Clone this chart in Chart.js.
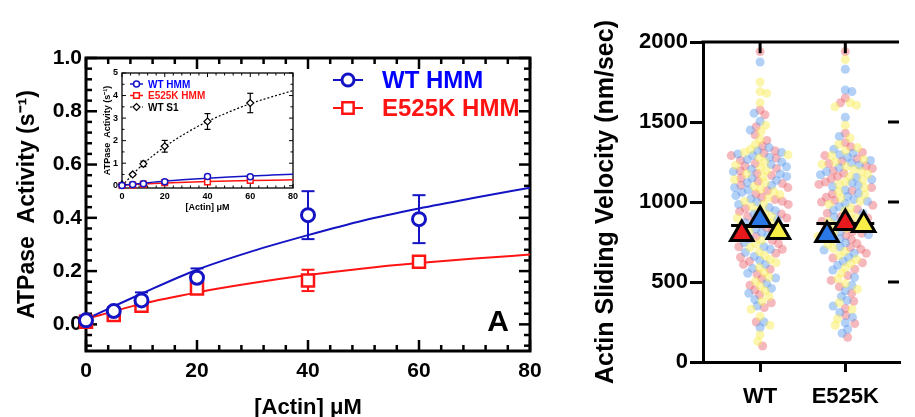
<!DOCTYPE html>
<html>
<head>
<meta charset="utf-8">
<script src="https://cdn.jsdelivr.net/npm/chart.js@4.4.1/dist/chart.umd.min.js"></script>
<style>
  html, body { margin: 0; padding: 0; background: #fff; overflow: hidden; }
  #wrap { position: relative; width: 915px; height: 417px; overflow: hidden; }
  #mainBox { position: absolute; left: 0; top: 0; }
  #insetBox { position: absolute; left: 85px; top: 60px; }
  #rightBox { position: absolute; left: 560px; top: 0; }
</style>
</head>
<body>
<div id="wrap">
  <div id="mainBox"><canvas id="mainChart" width="560" height="440"></canvas></div>
  <div id="insetBox"><canvas id="insetChart" width="220" height="160"></canvas></div>
  <div id="rightBox"><canvas id="rightChart" width="355" height="417"></canvas></div>
</div>
<script>
// Données ATPase
const actinConc = [0, 5, 10, 20, 40, 60];
const wtActivity = [0.015, 0.05, 0.09, 0.175, 0.41, 0.395];
const wtError = [0.01, 0.015, 0.03, 0.035, 0.09, 0.09];
const e525kActivity = [0.01, 0.035, 0.07, 0.135, 0.165, 0.235];
const e525kError = [0.005, 0.01, 0.015, 0.015, 0.04, 0.01];
const s1Activity = [0.05, 0.5, 0.97, 1.75, 2.85, 3.67];
const s1Error = [0.02, 0.05, 0.12, 0.26, 0.35, 0.43];

// Courbes d'ajustement
const fitConc = [0, 10, 20, 30, 40, 50, 60, 70, 80];
const wtFit = [0.02, 0.115, 0.205, 0.275, 0.335, 0.39, 0.435, 0.475, 0.513];
const e525kFit = [0.02, 0.077, 0.12, 0.155, 0.185, 0.21, 0.23, 0.247, 0.262];
const s1Fit = [0, 0.97, 1.73, 2.34, 2.85, 3.27, 3.64, 3.94, 4.22];

const xTickVals = [0, 20, 40, 60, 80];
const yTickVals = [0, 0.2, 0.4, 0.6, 0.8, 1.0];
const insetYTicks = [0, 1, 2, 3, 4, 5];
const mainLegend = ["WT HMM", "E525K HMM"];
const insetLegend = ["WT HMM", "E525K HMM", "WT S1"];

// Données de glissement (nm/sec)
const groups = ["WT", "E525K"];
const velTicks = [0, 500, 1000, 1500, 2000];
const wtRed = [1940, 1575, 1545, 1470, 1420, 1385, 1350, 1320, 1305, 1290, 1275, 1260, 1240, 1225, 1210, 1195, 1180, 1165, 1150, 1130, 1115, 1105, 1090, 1070, 1050, 1030, 1015, 1005, 985, 960, 940, 925, 910, 900, 880, 860, 840, 820, 805, 785, 760, 740, 720, 705, 680, 655, 630, 610, 580, 550, 520, 480, 450, 420, 370, 340, 250, 100];
const wtBlue = [1875, 1555, 1505, 1450, 1340, 1320, 1310, 1300, 1290, 1280, 1265, 1250, 1235, 1220, 1205, 1190, 1175, 1160, 1150, 1135, 1120, 1105, 1090, 1075, 1060, 1040, 1020, 1000, 985, 965, 945, 925, 905, 890, 870, 850, 830, 810, 790, 770, 745, 720, 705, 685, 660, 635, 610, 585, 555, 525, 490, 460, 430, 390, 350, 250, 215];
const wtYellow = [1750, 1690, 1680, 1620, 1480, 1440, 1390, 1360, 1330, 1310, 1295, 1275, 1250, 1230, 1215, 1195, 1175, 1160, 1140, 1120, 1095, 1080, 1065, 1045, 1025, 1005, 985, 970, 950, 930, 910, 900, 885, 865, 845, 820, 800, 780, 760, 740, 715, 690, 665, 640, 620, 590, 560, 530, 505, 475, 445, 410, 380, 330, 285, 230, 170, 130];
const e525kRed = [1940, 1650, 1620, 1430, 1370, 1345, 1310, 1290, 1270, 1255, 1240, 1225, 1210, 1195, 1180, 1160, 1145, 1125, 1110, 1090, 1070, 1050, 1030, 1010, 1000, 980, 955, 930, 910, 900, 880, 860, 835, 815, 805, 790, 765, 740, 715, 705, 680, 650, 620, 580, 540, 510, 470, 430, 380, 335, 290, 240, 155];
const e525kBlue = [1830, 1700, 1690, 1530, 1410, 1330, 1305, 1295, 1280, 1260, 1245, 1230, 1215, 1190, 1170, 1155, 1140, 1120, 1105, 1095, 1075, 1055, 1035, 1015, 1005, 990, 970, 950, 930, 905, 885, 860, 840, 815, 795, 770, 745, 720, 700, 680, 655, 630, 605, 575, 530, 480, 445, 410, 385, 350, 310, 280, 245, 205, 180];
const e525kYellow = [1890, 1620, 1605, 1595, 1480, 1400, 1360, 1340, 1320, 1290, 1265, 1250, 1235, 1220, 1205, 1190, 1175, 1160, 1140, 1125, 1110, 1090, 1065, 1045, 1025, 1005, 985, 965, 945, 920, 900, 880, 855, 835, 810, 800, 785, 760, 735, 710, 690, 665, 640, 615, 590, 555, 520, 490, 455, 370, 330, 270, 230];
// moyennes par réplicat (triangles) et moyenne globale
const redMeans = [800, 869];
const blueMeans = [887, 794];
const yellowMeans = [812, 856];
const groupMeans = [853, 866];
const barTop = [1930, 1930];
// place des triangles : -1 gauche, 0 centre, 1 droite
const redSlot = [-1, 0];
const blueSlot = [0, -1];
const yellowSlot = [1, 1];

const BLUE = "#1414c4";
const RED = "#ff1414";
const TRI_STEP = 0.215;
const SWARM_GAP = 6.8;

Chart.defaults.font.family = "'Liberation Sans', Arial, sans-serif";
Chart.defaults.font.weight = "bold";
Chart.defaults.color = "#000";
Chart.defaults.animation = false;

function seg(ctx, x1, y1, x2, y2) {
  ctx.beginPath();
  ctx.moveTo(x1, y1);
  ctx.lineTo(x2, y2);
  ctx.stroke();
}

// Cadre avec graduations intérieures
const framePlugin = {
  id: "frame",
  beforeDatasetsDraw(chart, args, o) {
    if (!o.enabled) return;
    const { ctx, chartArea: a } = chart;
    const x = chart.scales.x, y = chart.scales.y;
    ctx.save();
    ctx.strokeStyle = "#000";
    ctx.lineCap = "butt";
    ctx.lineWidth = o.tickWidth;
    const isMajor = (v, step) => Math.abs(v / step - Math.round(v / step)) < 1e-6;
    for (let i = Math.ceil(x.min / o.xMinor - 1e-9); i * o.xMinor <= x.max + 1e-9; i++) {
      const v = i * o.xMinor;
      const len = isMajor(v, o.xMajor) ? o.major : o.minor;
      const px = x.getPixelForValue(v);
      seg(ctx, px, a.bottom, px, a.bottom - len);
      seg(ctx, px, a.top, px, a.top + len);
    }
    for (let i = Math.ceil(y.min / o.yMinor - 1e-9); i * o.yMinor <= y.max + 1e-9; i++) {
      const v = i * o.yMinor;
      const len = isMajor(v, o.yMajor) ? o.major : o.minor;
      const py = y.getPixelForValue(v);
      seg(ctx, a.left, py, a.left + len, py);
      seg(ctx, a.right, py, a.right - len, py);
    }
    ctx.lineWidth = o.lineWidth;
    ctx.strokeRect(a.left, a.top, a.right - a.left, a.bottom - a.top);
    ctx.restore();
  }
};

// Barres d'erreur
const errorBarPlugin = {
  id: "errorBars",
  beforeDatasetsDraw(chart, args, o) {
    const { ctx } = chart;
    chart.data.datasets.forEach((ds, i) => {
      if (!ds.errors) return;
      const meta = chart.getDatasetMeta(i);
      const ys = chart.scales[meta.yAxisID];
      ctx.save();
      ctx.strokeStyle = ds.borderColor;
      ctx.lineWidth = o.lineWidth;
      meta.data.forEach((pt, j) => {
        const v = ds.data[j].y, e = ds.errors[j];
        const top = ys.getPixelForValue(v + e);
        const bot = ys.getPixelForValue(v - e);
        seg(ctx, pt.x, top, pt.x, bot);
        seg(ctx, pt.x - o.cap, top, pt.x + o.cap, top);
        seg(ctx, pt.x - o.cap, bot, pt.x + o.cap, bot);
      });
      ctx.restore();
    });
  }
};

// Légende avec trait + symbole, texte coloré
const legendPlugin = {
  id: "lineLegend",
  afterDraw(chart, args, o) {
    if (!o.items) return;
    const { ctx, chartArea: a } = chart;
    ctx.save();
    o.items.forEach((it, k) => {
      const y = a.top + o.top + k * o.gap;
      const x0 = a.left + o.left;
      ctx.strokeStyle = it.color;
      ctx.lineWidth = it.lineWidth;
      ctx.setLineDash(it.dash || []);
      seg(ctx, x0, y, x0 + o.lineLen, y);
      ctx.setLineDash([]);
      ctx.fillStyle = "#fff";
      ctx.lineWidth = it.markerWidth;
      Chart.helpers.drawPoint(ctx, { pointStyle: it.style, radius: it.radius, borderWidth: it.markerWidth, rotation: 0 }, x0 + o.lineLen / 2, y);
      ctx.fillStyle = it.textColor;
      ctx.font = "bold " + o.fontSize + "px 'Liberation Sans', Arial, sans-serif";
      ctx.textBaseline = "middle";
      ctx.textAlign = "left";
      ctx.fillText(it.label, x0 + o.textOffset, y + 1);
    });
    if (o.panelLabel) {
      ctx.fillStyle = "#000";
      ctx.font = "bold 30px 'Liberation Sans', Arial, sans-serif";
      ctx.textAlign = "center";
      ctx.textBaseline = "middle";
      ctx.fillText(o.panelLabel, a.right - 32, a.bottom - 28);
    }
    ctx.restore();
  }
};

function points(xs, ys) {
  return xs.map((c, i) => ({ x: c, y: ys[i] }));
}

// Graphique principal
new Chart(document.getElementById("mainChart"), {
  type: "scatter",
  data: {
    datasets: [
      { label: "WT HMM", data: points(actinConc, wtActivity), errors: wtError, borderColor: BLUE, backgroundColor: "#fff",
        pointStyle: "circle", pointRadius: 6.5, borderWidth: 3, order: 0, clip: false },
      { label: "E525K HMM", data: points(actinConc, e525kActivity), errors: e525kError, borderColor: RED, backgroundColor: "#fff",
        pointStyle: "rect", pointRadius: 8.5, borderWidth: 2.5, order: 1, clip: false },
      { label: "WT fit", data: points(fitConc, wtFit), showLine: true, borderColor: BLUE, borderWidth: 2,
        pointRadius: 0, cubicInterpolationMode: "monotone", order: 2 },
      { label: "E525K fit", data: points(fitConc, e525kFit), showLine: true, borderColor: RED, borderWidth: 2,
        pointRadius: 0, cubicInterpolationMode: "monotone", order: 3 }
    ]
  },
  options: {
    responsive: false,
    layout: { padding: { left: 0, right: 30, top: 58, bottom: 0 } },
    plugins: {
      legend: { display: false },
      tooltip: { enabled: false },
      frame: { enabled: true, lineWidth: 3, tickWidth: 2.5, xMinor: 4, xMajor: 20, yMinor: 0.04, yMajor: 0.2, minor: 6, major: 11 },
      errorBars: { lineWidth: 2, cap: 6.5 },
      lineLegend: {
        left: 247, top: 22, gap: 28, lineLen: 30, textOffset: 49, fontSize: 24, panelLabel: "A",
        items: [
          { label: mainLegend[0], color: BLUE, textColor: "#0000ff", lineWidth: 2, style: "circle", radius: 6, markerWidth: 3 },
          { label: mainLegend[1], color: RED, textColor: RED, lineWidth: 2, style: "rect", radius: 8, markerWidth: 2.5 }
        ]
      }
    },
    scales: {
      x: {
        type: "linear", min: 0, max: 80,
        grid: { display: false, drawTicks: false }, border: { display: false },
        afterBuildTicks: (s) => { s.ticks = xTickVals.map((v) => ({ value: v })); },
        afterFit: (s) => { s.height = 89; },
        ticks: { font: { size: 21, weight: "bold" }, padding: 8, maxRotation: 0 },
        title: { display: true, text: "[Actin] μM", font: { size: 22, weight: "bold" }, padding: { top: 0, bottom: 19 } }
      },
      y: {
        type: "linear", min: -0.1, max: 1.0,
        grid: { display: false, drawTicks: false }, border: { display: false },
        afterBuildTicks: (s) => { s.ticks = yTickVals.map((v) => ({ value: v })); },
        afterFit: (s) => { s.width = 86; },
        ticks: { font: { size: 21, weight: "bold" }, padding: 4, callback: (v) => v.toFixed(1) },
        title: { display: true, text: "ATPase  Activity (s⁻¹)", font: { size: 23, weight: "bold" }, padding: { top: 14, bottom: 0 } }
      }
    }
  },
  plugins: [framePlugin, errorBarPlugin, legendPlugin]
});

// Encart avec S1
new Chart(document.getElementById("insetChart"), {
  type: "scatter",
  data: {
    datasets: [
      { label: "WT HMM", data: points(actinConc, wtActivity), borderColor: BLUE, backgroundColor: "#fff",
        pointStyle: "circle", pointRadius: 3, borderWidth: 1.5, order: 0, clip: false },
      { label: "E525K HMM", data: points(actinConc, e525kActivity), borderColor: RED, backgroundColor: "#fff",
        pointStyle: "rect", pointRadius: 4, borderWidth: 1.5, order: 1, clip: false },
      { label: "WT S1", data: points(actinConc, s1Activity), errors: s1Error, borderColor: "#000", backgroundColor: "#fff",
        pointStyle: "rectRot", pointRadius: 3.5, borderWidth: 1.2, order: 0, clip: false },
      { label: "WT fit", data: points(fitConc, wtFit), showLine: true, borderColor: BLUE, borderWidth: 1.5,
        pointRadius: 0, cubicInterpolationMode: "monotone", order: 3 },
      { label: "E525K fit", data: points(fitConc, e525kFit), showLine: true, borderColor: RED, borderWidth: 1.5,
        pointRadius: 0, cubicInterpolationMode: "monotone", order: 4 },
      { label: "S1 fit", data: points(fitConc, s1Fit), showLine: true, borderColor: "#000", borderWidth: 1.2,
        borderDash: [2, 2], pointRadius: 0, cubicInterpolationMode: "monotone", order: 5 }
    ]
  },
  options: {
    responsive: false,
    layout: { padding: { left: 0, right: 12, top: 13, bottom: 0 } },
    plugins: {
      legend: { display: false },
      tooltip: { enabled: false },
      frame: { enabled: true, lineWidth: 1.3, tickWidth: 1, xMinor: 4, xMajor: 20, yMinor: 0.5, yMajor: 1, minor: 2.5, major: 4 },
      errorBars: { lineWidth: 1.2, cap: 3 },
      lineLegend: {
        left: 8, top: 11, gap: 11.5, lineLen: 13, textOffset: 18, fontSize: 10,
        items: [
          { label: insetLegend[0], color: BLUE, textColor: "#0000ff", lineWidth: 1.5, style: "circle", radius: 3, markerWidth: 1.5 },
          { label: insetLegend[1], color: RED, textColor: RED, lineWidth: 1.5, style: "rect", radius: 4, markerWidth: 1.5 },
          { label: insetLegend[2], color: "#000", textColor: "#000", lineWidth: 1, dash: [2, 2], style: "rectRot", radius: 3.5, markerWidth: 1.2 }
        ]
      }
    },
    scales: {
      x: {
        type: "linear", min: 0, max: 80,
        grid: { display: false, drawTicks: false }, border: { display: false },
        afterBuildTicks: (s) => { s.ticks = xTickVals.map((v) => ({ value: v })); },
        afterFit: (s) => { s.height = 32; },
        ticks: { font: { size: 9, weight: "bold" }, padding: 3, maxRotation: 0 },
        title: { display: true, text: "[Actin] μM", font: { size: 9, weight: "bold" }, padding: { top: 0, bottom: 7 } }
      },
      y: {
        type: "linear", min: -0.1, max: 5,
        grid: { display: false, drawTicks: false }, border: { display: false },
        afterBuildTicks: (s) => { s.ticks = insetYTicks.map((v) => ({ value: v })); },
        afterFit: (s) => { s.width = 37; },
        ticks: { font: { size: 9, weight: "bold" }, padding: 4 },
        title: { display: true, text: "ATPase  Activity (s⁻¹)", font: { size: 9, weight: "bold" }, padding: { top: 17, bottom: 0 } }
      }
    }
  },
  plugins: [framePlugin, errorBarPlugin, legendPlugin]
});

// Placement en essaim (beeswarm) : décalage horizontal le plus petit sans chevauchement
function findSlot(placed, py, d, side) {
  const iv = [];
  placed.forEach((q) => {
    const dy = Math.abs(q.py - py);
    if (dy < d) {
      const w = Math.sqrt(d * d - dy * dy);
      iv.push([q.px - w, q.px + w]);
    }
  });
  const cands = [0];
  iv.forEach(([a, b]) => cands.push(a, b));
  cands.sort((a, b) => Math.abs(a) - Math.abs(b) || side * (a - b));
  for (const c of cands) {
    if (iv.every(([a, b]) => c <= a + 1e-6 || c >= b - 1e-6)) return c;
  }
  return 0;
}

function layoutSwarm(chart) {
  const xs = chart.scales.x, ys = chart.scales.y;
  const unit = xs.getPixelForValue(1) - xs.getPixelForValue(0);
  groups.forEach((g, gi) => {
    const pts = [];
    chart.data.datasets.forEach((ds) => {
      if (!ds.swarm) return;
      ds.data.forEach((p) => { if (p.g === gi) pts.push(p); });
    });
    pts.sort((a, b) => b.y - a.y);
    const placed = [];
    pts.forEach((p, k) => {
      const py = ys.getPixelForValue(p.y);
      const px = findSlot(placed, py, SWARM_GAP, k % 2 ? 1 : -1);
      placed.push({ px: px, py: py });
      p.x = gi + 1 + px / unit;
    });
  });
}

function swarmData(wt, mut) {
  return wt.map((v) => ({ x: 1, y: v, g: 0 })).concat(mut.map((v) => ({ x: 2, y: v, g: 1 })));
}

const triPoints = [];
const triColors = [];
groups.forEach((g, gi) => {
  triPoints.push({ x: gi + 1 + redSlot[gi] * TRI_STEP, y: redMeans[gi] });
  triColors.push("#e8191c");
  triPoints.push({ x: gi + 1 + blueSlot[gi] * TRI_STEP, y: blueMeans[gi] });
  triColors.push("#2a78e6");
  triPoints.push({ x: gi + 1 + yellowSlot[gi] * TRI_STEP, y: yellowMeans[gi] });
  triColors.push("#f8ee48");
});

const meanLines = groups.map((g, gi) => ({
  label: g + " mean", data: [{ x: gi + 1 - 0.34, y: groupMeans[gi] }, { x: gi + 1 + 0.34, y: groupMeans[gi] }],
  showLine: true, borderColor: "#000", borderWidth: 3, pointRadius: 0, order: 1
}));
const topBars = groups.map((g, gi) => ({
  label: g + " bar", data: [{ x: gi + 1, y: barTop[gi] }, { x: gi + 1, y: 2000 }],
  showLine: true, borderColor: "#000", borderWidth: 3, pointRadius: 0, order: 1
}));

// Trait du haut et graduations du panneau voisin
const edgePlugin = {
  id: "edges",
  afterDatasetsDraw(chart) {
    const { ctx, chartArea: a } = chart;
    const y = chart.scales.y;
    ctx.save();
    ctx.strokeStyle = "#000";
    ctx.lineWidth = 3;
    seg(ctx, a.left - 1.5, a.top, a.right, a.top);
    velTicks.slice(1, -1).forEach((v) => {
      const py = y.getPixelForValue(v);
      seg(ctx, a.right - 11, py, a.right, py);
    });
    ctx.restore();
  }
};

const rightChart = new Chart(document.getElementById("rightChart"), {
  type: "scatter",
  data: {
    datasets: [
      { label: "means", data: triPoints, pointStyle: "triangle", pointRadius: 13, borderWidth: 3,
        borderColor: "#000", backgroundColor: triColors, order: 0, clip: false },
      ...meanLines,
      ...topBars,
      { label: "yellow", swarm: true, data: swarmData(wtYellow, e525kYellow), pointRadius: 4.5, borderWidth: 0,
        backgroundColor: "rgba(248, 236, 70, 0.45)", order: 2 },
      { label: "blue", swarm: true, data: swarmData(wtBlue, e525kBlue), pointRadius: 4.5, borderWidth: 0,
        backgroundColor: "rgba(86, 150, 236, 0.45)", order: 3 },
      { label: "red", swarm: true, data: swarmData(wtRed, e525kRed), pointRadius: 4.5, borderWidth: 0,
        backgroundColor: "rgba(232, 88, 98, 0.42)", order: 4 }
    ]
  },
  options: {
    responsive: false,
    layout: { padding: { left: 0, right: 0, top: 42, bottom: 0 } },
    plugins: { legend: { display: false }, tooltip: { enabled: false } },
    scales: {
      x: {
        type: "linear", min: 0.33, max: 2.63,
        afterBuildTicks: (s) => { s.ticks = groups.map((g, i) => ({ value: i + 1 })); },
        afterFit: (s) => { s.height = 55; },
        ticks: { font: { size: 22, weight: "bold" }, padding: 12, maxRotation: 0, callback: (v) => groups[v - 1] },
        grid: { drawOnChartArea: false, drawTicks: true, tickLength: 10, tickWidth: 3, lineWidth: 3, tickColor: "#000", color: "#000" },
        border: { display: true, width: 3, color: "#000" }
      },
      y: {
        type: "linear", min: 0, max: 2000,
        afterBuildTicks: (s) => { s.ticks = velTicks.map((v) => ({ value: v })); },
        afterFit: (s) => { s.width = 143; },
        ticks: { font: { size: 22, weight: "bold" }, padding: 2, callback: (v) => String(v) },
        grid: { drawOnChartArea: false, drawTicks: true, tickLength: 13, tickWidth: 3, lineWidth: 3, tickColor: "#000", color: "#000" },
        border: { display: true, width: 3, color: "#000" },
        title: { display: true, text: "Actin Sliding Velocity (nm/sec)", font: { size: 25, weight: "bold" }, padding: { top: 31, bottom: 0 } }
      }
    }
  },
  plugins: [edgePlugin]
});

layoutSwarm(rightChart);
rightChart.update("none");
</script>
</body>
</html>
